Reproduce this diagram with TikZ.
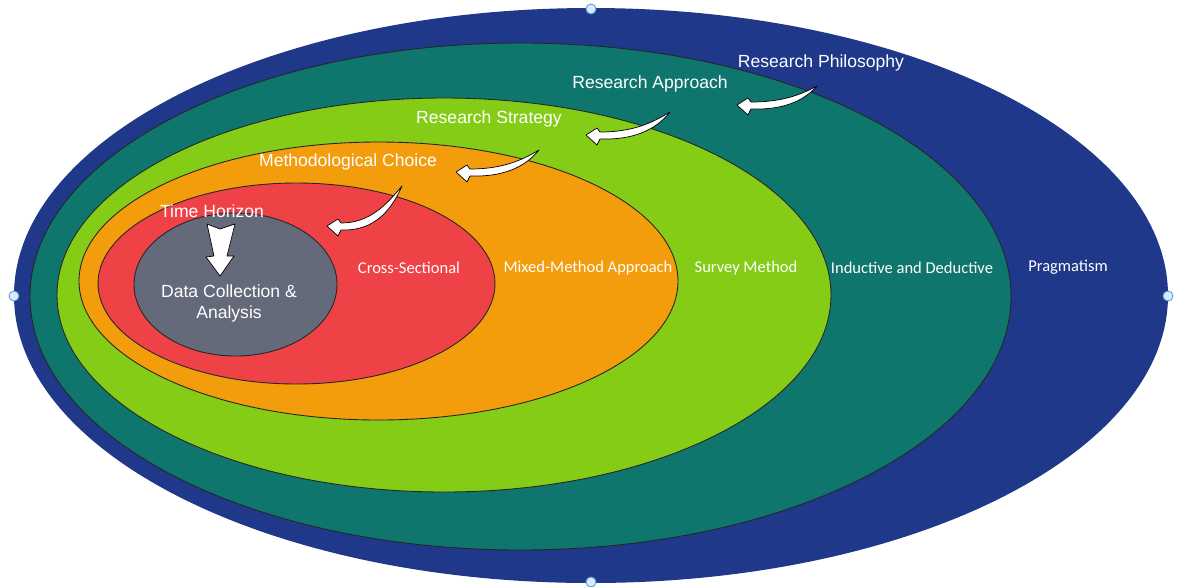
\documentclass[tikz,border=0pt]{standalone}
\usepackage{fontspec}
\setmainfont{Liberation Sans}
\newfontfamily\rowfont{Carlito}
\definecolor{onionnavy}{HTML}{1F388A}
\definecolor{onionteal}{HTML}{0F766D}
\definecolor{oniongreen}{HTML}{84CC16}
\definecolor{onionorange}{HTML}{F39C0C}
\definecolor{onionred}{HTML}{EE4246}
\definecolor{oniongrey}{HTML}{646A7A}
\definecolor{handlefill}{HTML}{DCEBFB}
\definecolor{handleline}{HTML}{5B9BE0}
\tikzset{
  layer/.style={draw=black!85, line width=0.5pt},
  ringlabel/.style={text=white, font=\fontsize{10}{12}\selectfont, inner sep=0pt, align=center},
  rowlabel/.style={text=white, font=\rowfont\fontsize{9.4}{11}\selectfont, inner sep=0pt},
  pointer/.style={fill=white, draw=black, line width=0.4pt, line join=round},
  handle/.style={fill=handlefill, draw=handleline, line width=0.5pt}
}
% curved white pointer: tip x, tip y, tail dx, tail dy
\newcommand{\curlarrow}[4]{%
  \begin{scope}[shift={(#1,#2)}]
  \filldraw[pointer] (0,0) -- (11,-7) -- (14,-3)
     .. controls ({0.45*#3+8},-3) and ({0.78*#3},{0.5*#4}) .. (#3,#4)
     .. controls ({0.82*#3},{0.3*#4+3}) and ({0.45*#3+8},5) .. (14,4)
     -- (11,10) -- cycle;
  \end{scope}}
\begin{document}
\begin{tikzpicture}[x=0.02cm,y=-0.02cm]
\useasboundingbox (0,0) rectangle (1181,586);
% layers, outside in
\fill[onionnavy] (591,295.5) ellipse [x radius=577, y radius=287.5];
\filldraw[layer, fill=onionteal] (520.5,296.5) ellipse [x radius=490.5, y radius=253.5];
\filldraw[layer, fill=oniongreen] (444,295) ellipse [x radius=387, y radius=197];
\filldraw[layer, fill=onionorange] (378.5,281) ellipse [x radius=299.5, y radius=139];
\filldraw[layer, fill=onionred] (296.5,283.5) ellipse [x radius=198.5, y radius=100.5];
\filldraw[layer, fill=oniongrey] (235.5,284.5) ellipse [x radius=101.5, y radius=71.5];
% selection handles
\foreach \hx/\hy in {591/9, 14/296, 1168/296, 591/582}
  \filldraw[handle] (\hx,\hy) circle [radius=5];
% pointers
\curlarrow{737}{105}{80}{-19}
\curlarrow{586}{135}{84}{-23}
\curlarrow{456}{172}{83}{-22}
\curlarrow{327}{226}{75}{-40}
\filldraw[pointer] (207,224) -- (220,229) -- (235,224) -- (227,256) -- (234,256)
  -- (220,276) -- (206,257) -- (214,256) -- cycle;
% ring titles
\node[ringlabel] (philosophy) at (821,63) {Research Philosophy};
\node[ringlabel] (approach) at (650,84) {Research Approach};
\node[ringlabel] (strategy) at (489,119) {Research Strategy};
\node[ringlabel] (choice) at (348,162) {Methodological Choice};
\node[ringlabel] (horizon) at (212,211) {Time Horizon};
\node[ringlabel] (core) at (229,303) {Data Collection \&\\Analysis};
% ring contents
\node[rowlabel] (crosssec) at (409,268) {Cross-Sectional};
\node[rowlabel] (mixed) at (588,268) {Mixed-Method Approach};
\node[rowlabel] (survey) at (746,268) {Survey Method};
\node[rowlabel] (inductive) at (912,268) {Inductive and Deductive};
\node[rowlabel] (pragmatism) at (1068,267) {Pragmatism};
\end{tikzpicture}
\end{document}
